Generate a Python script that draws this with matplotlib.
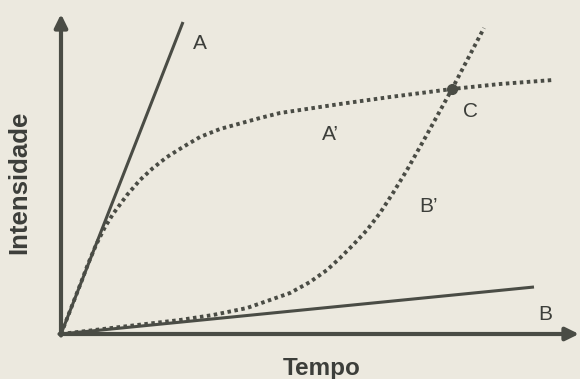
import matplotlib.pyplot as plt

# data units: time / intensity (schematic, origin at axes corner)
lineA_t = [0, 122]
lineA_i = [0, 312]
lineB_t = [0, 473]
lineB_i = [0, 47]

# A' - fast rise, then saturates
curveA_t = [0, 7, 14, 21, 27, 35, 44, 52, 66, 79, 92, 106, 122, 139, 159,
            179, 199, 219, 239, 279, 329, 391, 439, 492]
curveA_i = [0, 18, 36, 54, 70, 89, 107, 120, 139, 154, 166, 177, 187, 197, 205,
            210.5, 216, 221, 224, 230, 237, 245, 250, 254]

# B' - slow start, then steep rise
curveB_t = [0, 59, 119, 152, 186, 209, 229, 249, 266, 279, 292, 306, 319, 332,
            346, 364, 391, 423]
curveB_i = [0, 7, 14, 19, 26, 34, 41, 52, 64, 76, 89, 104, 121, 141,
            164, 196, 245, 306]

# crossing point C
pointC_t = [391]
pointC_i = [245]

bg = '#ece9df'
ink = '#4a4c45'
txt = '#3c3e3a'

plt.rcParams['font.family'] = ['Liberation Sans', 'DejaVu Sans']

fig = plt.figure(figsize=(5.8, 3.79), dpi=100, facecolor=bg)
ax = fig.add_axes([0, 0, 1, 1])
ax.set_facecolor(bg)
ax.set_xlim(-61, 519)
ax.set_ylim(-45, 334)
ax.axis('off')

# axes arrows
arrow = dict(arrowstyle='-|>,head_length=0.65,head_width=0.32', lw=3, color=ink,
             shrinkA=0, shrinkB=0, mutation_scale=12)
ax.annotate('', xy=(0, 320), xytext=(0, -1.5), arrowprops=arrow)
ax.annotate('', xy=(518, 0), xytext=(-1.5, 0), arrowprops=arrow)

# straight lines
ax.plot(lineA_t, lineA_i, color=ink, lw=2.2, solid_capstyle='butt')
ax.plot(lineB_t, lineB_i, color=ink, lw=2.2, solid_capstyle='butt')

# dotted curves
ax.plot(curveA_t, curveA_i, color=ink, lw=2.8, linestyle=(0, (0.9, 0.9)))
ax.plot(curveB_t, curveB_i, color=ink, lw=2.8, linestyle=(0, (0.9, 0.9)))

ax.plot(pointC_t, pointC_i, 'o', color=ink, markersize=7)

# labels
ax.text(139, 285, 'A', fontsize=15, color=txt, ha='center', va='baseline')
ax.text(484, 14, 'B', fontsize=15, color=txt, ha='center', va='baseline')
ax.text(410, 217, 'C', fontsize=15, color=txt, ha='center', va='baseline')
ax.text(261, 194, 'A\u2019', fontsize=15, color=txt, ha='left', va='baseline')
ax.text(358, 122, 'B\u2019', fontsize=15, color=txt, ha='left', va='baseline')

ax.text(261, -41, 'Tempo', fontsize=17.5, fontweight='bold', color=txt,
        ha='center', va='baseline')
ax.text(-42, 152, 'Intensidade', fontsize=18.5, fontweight='bold', color=txt,
        ha='center', va='center', rotation=90)

plt.savefig('out.png', dpi=100, facecolor=bg)
